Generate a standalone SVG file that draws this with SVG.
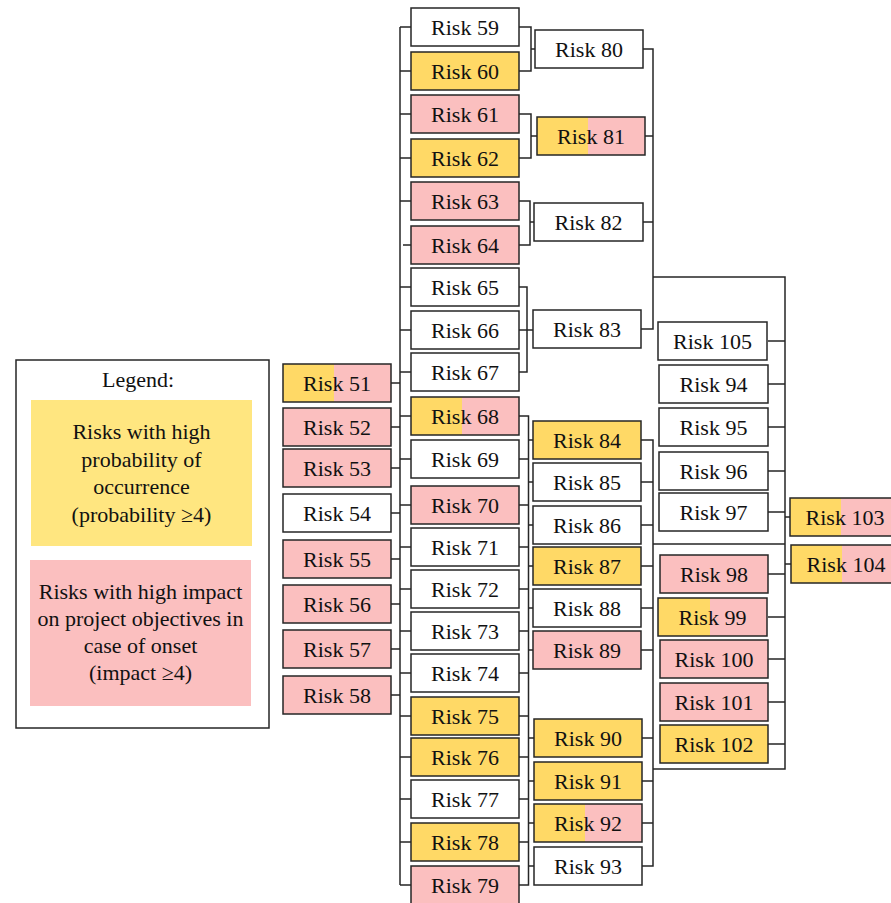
<svg xmlns="http://www.w3.org/2000/svg" width="891" height="903" viewBox="0 0 891 903" font-family="Liberation Serif, DejaVu Serif, serif">
<style>
.w{fill:#fff;stroke:#262626;stroke-width:1.5}
.y{fill:#FFD966;stroke:#262626;stroke-width:1.5}
.p{fill:#FBBFBF;stroke:#262626;stroke-width:1.5}
.hy{fill:#FFD966}
.hp{fill:#FBBFBF}
.o{fill:none;stroke:#262626;stroke-width:1.5}
text{font-family:'Liberation Serif','DejaVu Serif',serif;font-size:22px;fill:#111;text-anchor:middle}
.c{fill:none;stroke:#262626;stroke-width:1.5}
</style>
<g id="legend">
<rect x="16" y="360" width="253" height="368" fill="#fff" stroke="#262626" stroke-width="1.5"/>
<text x="138" y="387">Legend:</text>
<rect x="31" y="400" width="221" height="146" fill="#FFE680"/>
<text x="141.5" y="439">Risks with high</text>
<text x="141.5" y="467">probability of</text>
<text x="141.5" y="494">occurrence</text>
<text x="141.5" y="522">(probability ≥4)</text>
<rect x="30" y="560" width="221" height="146" fill="#FBBFBF"/>
<text x="140.5" y="599">Risks with high impact</text>
<text x="140.5" y="626">on project objectives in</text>
<text x="140.5" y="653">case of onset</text>
<text x="140.5" y="680">(impact ≥4)</text>
</g>
<g id="connectors" class="c">
<path d="M400,27V885"/>
<path d="M391,383H400M391,427H400M391,468H400M391,513H400M391,559H400M391,604H400M391,649H400M391,695H400"/>
<path d="M400,27H411M400,71H411M400,114H411M400,158H411M400,201H411M403,245H411M400,287H411M400,330H411M400,372H411M400,416H411M400,459H411M400,505H411M400,547H411M400,589H411M400,631H411M400,673H411M400,716H411M400,757H411M400,799H411M400,842H411M400,885H411"/>
<path d="M519,27H531V71H519M531,49H535"/>
<path d="M519,114H531V158H519M531,136H537"/>
<path d="M519,201H530V245H519M530,222H534"/>
<path d="M519,287H527V372H519M519,330H533"/>
<path d="M643,49H653V329H641M645,136H653M643,222H653"/>
<path d="M653,277H785V769H653M653,544H785"/>
<path d="M519,416H528.5V885H519M519,459H528.5M519,505H528.5M519,547H528.5M519,589H528.5M519,631H528.5M519,673H528.5M519,716H528.5M519,757H528.5M519,799H528.5M519,842H528.5"/>
<path d="M528.5,440H533M528.5,482H533M528.5,525H533M528.5,566H533M528.5,608H533M528.5,650H533M528.5,738H534M528.5,781H534M528.5,823H534M528.5,866H534"/>
<path d="M641,440H653V866H642M641,482H653M641,525H653M641,566H653M641,608H653M641,650H653M642,738H653M642,781H653M642,823H653"/>
<path d="M768,341H785M768,384H785M768,427H785M768,471H785M768,512H785M768,574H785M768,617H785M768,659H785M768,702H785M768,744H785"/>
<path d="M785,517H790M785,564H791"/>
</g>
<g id="risk51"><rect class="hy" x="283" y="364" width="51" height="38"/><rect class="hp" x="334" y="364" width="57" height="38"/><rect class="o" x="283" y="364" width="108" height="38"/><text x="337" y="390.5">Risk 51</text></g>
<g id="risk52"><rect class="p" x="283" y="408" width="108" height="38"/><text x="337" y="434.5">Risk 52</text></g>
<g id="risk53"><rect class="p" x="283" y="449" width="108" height="38"/><text x="337" y="475.5">Risk 53</text></g>
<g id="risk54"><rect class="w" x="283" y="494" width="108" height="38"/><text x="337" y="520.5">Risk 54</text></g>
<g id="risk55"><rect class="p" x="283" y="540" width="108" height="38"/><text x="337" y="566.5">Risk 55</text></g>
<g id="risk56"><rect class="p" x="283" y="585" width="108" height="38"/><text x="337" y="611.5">Risk 56</text></g>
<g id="risk57"><rect class="p" x="283" y="630" width="108" height="38"/><text x="337" y="656.5">Risk 57</text></g>
<g id="risk58"><rect class="p" x="283" y="676" width="108" height="38"/><text x="337" y="702.5">Risk 58</text></g>
<g id="risk59"><rect class="w" x="411" y="8" width="108" height="38"/><text x="465" y="34.5">Risk 59</text></g>
<g id="risk60"><rect class="y" x="411" y="52" width="108" height="38"/><text x="465" y="78.5">Risk 60</text></g>
<g id="risk61"><rect class="p" x="411" y="95" width="108" height="38"/><text x="465" y="121.5">Risk 61</text></g>
<g id="risk62"><rect class="y" x="411" y="139" width="108" height="38"/><text x="465" y="165.5">Risk 62</text></g>
<g id="risk63"><rect class="p" x="411" y="182" width="108" height="38"/><text x="465" y="208.5">Risk 63</text></g>
<g id="risk64"><rect class="p" x="411" y="226" width="108" height="38"/><text x="465" y="252.5">Risk 64</text></g>
<g id="risk65"><rect class="w" x="411" y="268" width="108" height="38"/><text x="465" y="294.5">Risk 65</text></g>
<g id="risk66"><rect class="w" x="411" y="311" width="108" height="38"/><text x="465" y="337.5">Risk 66</text></g>
<g id="risk67"><rect class="w" x="411" y="353" width="108" height="38"/><text x="465" y="379.5">Risk 67</text></g>
<g id="risk68"><rect class="hy" x="411" y="397" width="51" height="38"/><rect class="hp" x="462" y="397" width="57" height="38"/><rect class="o" x="411" y="397" width="108" height="38"/><text x="465" y="423.5">Risk 68</text></g>
<g id="risk69"><rect class="w" x="411" y="440" width="108" height="38"/><text x="465" y="466.5">Risk 69</text></g>
<g id="risk70"><rect class="p" x="411" y="486" width="108" height="38"/><text x="465" y="512.5">Risk 70</text></g>
<g id="risk71"><rect class="w" x="411" y="528" width="108" height="38"/><text x="465" y="554.5">Risk 71</text></g>
<g id="risk72"><rect class="w" x="411" y="570" width="108" height="38"/><text x="465" y="596.5">Risk 72</text></g>
<g id="risk73"><rect class="w" x="411" y="612" width="108" height="38"/><text x="465" y="638.5">Risk 73</text></g>
<g id="risk74"><rect class="w" x="411" y="654" width="108" height="38"/><text x="465" y="680.5">Risk 74</text></g>
<g id="risk75"><rect class="y" x="411" y="697" width="108" height="38"/><text x="465" y="723.5">Risk 75</text></g>
<g id="risk76"><rect class="y" x="411" y="738" width="108" height="38"/><text x="465" y="764.5">Risk 76</text></g>
<g id="risk77"><rect class="w" x="411" y="780" width="108" height="38"/><text x="465" y="806.5">Risk 77</text></g>
<g id="risk78"><rect class="y" x="411" y="823" width="108" height="38"/><text x="465" y="849.5">Risk 78</text></g>
<g id="risk79"><rect class="p" x="411" y="866" width="108" height="38"/><text x="465" y="892.5">Risk 79</text></g>
<g id="risk80"><rect class="w" x="535" y="30" width="108" height="38"/><text x="589" y="56.5">Risk 80</text></g>
<g id="risk81"><rect class="hy" x="537" y="117" width="51" height="38"/><rect class="hp" x="588" y="117" width="57" height="38"/><rect class="o" x="537" y="117" width="108" height="38"/><text x="591" y="143.5">Risk 81</text></g>
<g id="risk82"><rect class="w" x="534" y="203" width="109" height="38"/><text x="588.5" y="229.5">Risk 82</text></g>
<g id="risk83"><rect class="w" x="533" y="310" width="108" height="38"/><text x="587" y="336.5">Risk 83</text></g>
<g id="risk84"><rect class="y" x="533" y="421" width="108" height="38"/><text x="587" y="447.5">Risk 84</text></g>
<g id="risk85"><rect class="w" x="533" y="463" width="108" height="38"/><text x="587" y="489.5">Risk 85</text></g>
<g id="risk86"><rect class="w" x="533" y="506" width="108" height="38"/><text x="587" y="532.5">Risk 86</text></g>
<g id="risk87"><rect class="y" x="533" y="547" width="108" height="38"/><text x="587" y="573.5">Risk 87</text></g>
<g id="risk88"><rect class="w" x="533" y="589" width="108" height="38"/><text x="587" y="615.5">Risk 88</text></g>
<g id="risk89"><rect class="p" x="533" y="631" width="108" height="38"/><text x="587" y="657.5">Risk 89</text></g>
<g id="risk90"><rect class="y" x="534" y="719" width="108" height="38"/><text x="588" y="745.5">Risk 90</text></g>
<g id="risk91"><rect class="y" x="534" y="762" width="108" height="38"/><text x="588" y="788.5">Risk 91</text></g>
<g id="risk92"><rect class="hy" x="534" y="804" width="51" height="38"/><rect class="hp" x="585" y="804" width="57" height="38"/><rect class="o" x="534" y="804" width="108" height="38"/><text x="588" y="830.5">Risk 92</text></g>
<g id="risk93"><rect class="w" x="534" y="847" width="108" height="38"/><text x="588" y="873.5">Risk 93</text></g>
<g id="risk105"><rect class="w" x="658" y="322" width="109" height="38"/><text x="712.5" y="348.5">Risk 105</text></g>
<g id="risk94"><rect class="w" x="659" y="365" width="109" height="38"/><text x="713.5" y="391.5">Risk 94</text></g>
<g id="risk95"><rect class="w" x="659" y="408" width="109" height="38"/><text x="713.5" y="434.5">Risk 95</text></g>
<g id="risk96"><rect class="w" x="659" y="452" width="109" height="38"/><text x="713.5" y="478.5">Risk 96</text></g>
<g id="risk97"><rect class="w" x="659" y="493" width="109" height="38"/><text x="713.5" y="519.5">Risk 97</text></g>
<g id="risk98"><rect class="p" x="660" y="555" width="108" height="38"/><text x="714" y="581.5">Risk 98</text></g>
<g id="risk99"><rect class="hy" x="658" y="598" width="52" height="38"/><rect class="hp" x="710" y="598" width="57" height="38"/><rect class="o" x="658" y="598" width="109" height="38"/><text x="712.5" y="624.5">Risk 99</text></g>
<g id="risk100"><rect class="p" x="660" y="640" width="108" height="38"/><text x="714" y="666.5">Risk 100</text></g>
<g id="risk101"><rect class="p" x="660" y="683" width="108" height="38"/><text x="714" y="709.5">Risk 101</text></g>
<g id="risk102"><rect class="y" x="660" y="725" width="108" height="38"/><text x="714" y="751.5">Risk 102</text></g>
<g id="risk103"><rect class="hy" x="790" y="498" width="51" height="38"/><rect class="hp" x="841" y="498" width="60" height="38"/><rect class="o" x="790" y="498" width="110" height="38"/><text x="845" y="524.5">Risk 103</text></g>
<g id="risk104"><rect class="hy" x="791" y="545" width="51" height="38"/><rect class="hp" x="842" y="545" width="60" height="38"/><rect class="o" x="791" y="545" width="110" height="38"/><text x="846" y="571.5">Risk 104</text></g>
</svg>
